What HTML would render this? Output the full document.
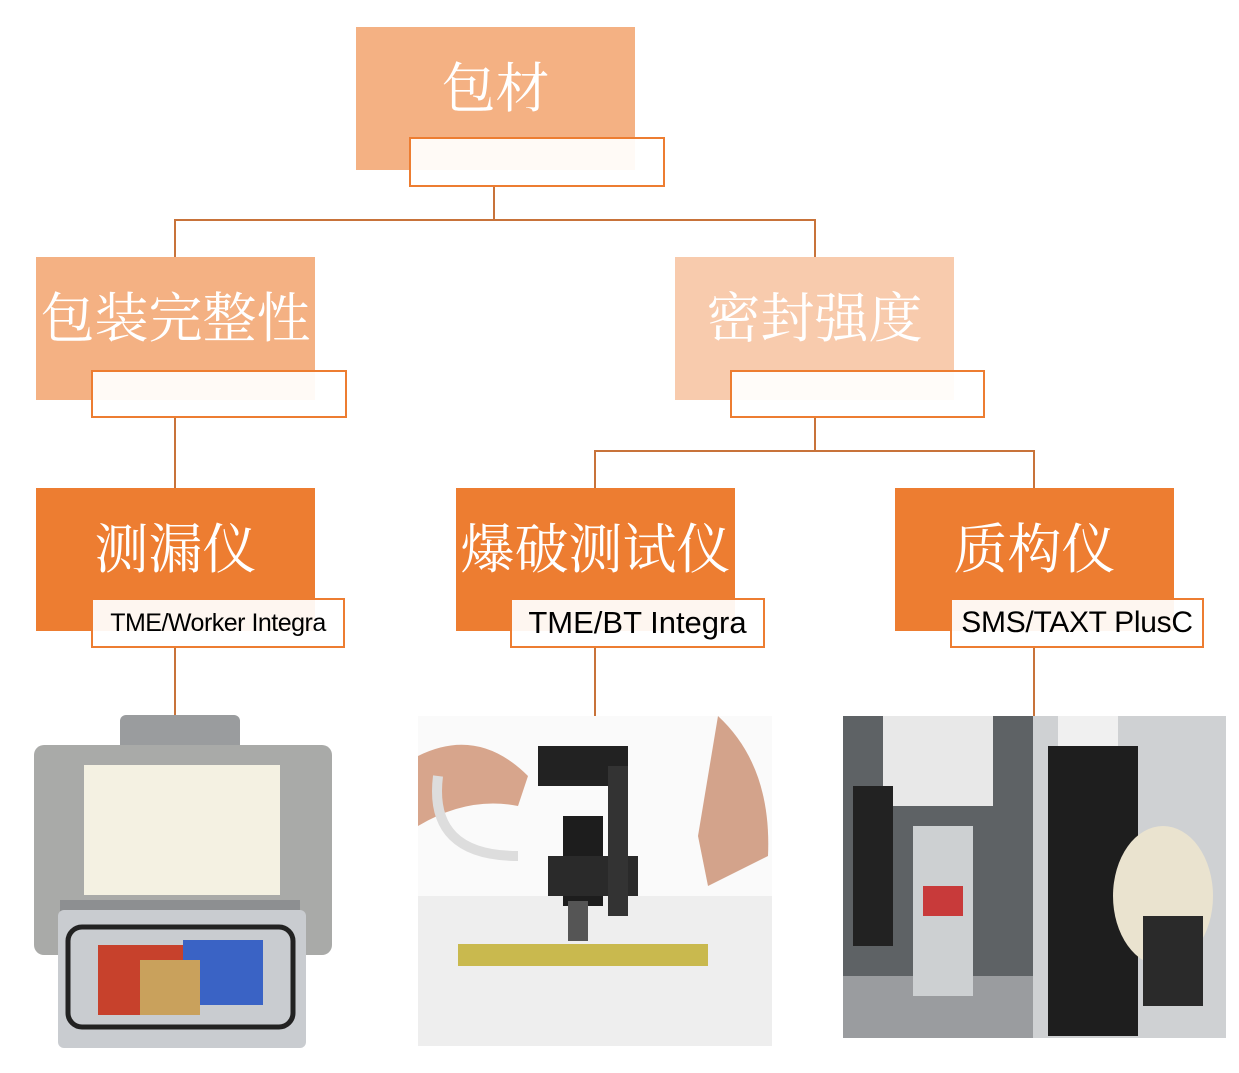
<!DOCTYPE html>
<html><head><meta charset="utf-8"><style>
body{margin:0;width:1239px;height:1073px;background:#fff;position:relative;overflow:hidden}
.b{position:absolute;display:flex;align-items:center;justify-content:center;color:#fff;font-family:"Liberation Serif","Noto Serif CJK SC",serif;font-size:54px;padding-bottom:28px;box-sizing:border-box;white-space:nowrap}
.s{position:absolute;background:rgba(255,255,255,0.93);border:2px solid #ED7D31;box-sizing:border-box;font-family:"Liberation Sans",sans-serif;color:#000;display:flex;align-items:center;justify-content:center;white-space:nowrap}
.l{position:absolute;background:#C8733A}
.img{position:absolute}
</style></head><body>
<div class="l" style="left:493px;top:187px;width:2px;height:34px"></div>
<div class="l" style="left:174px;top:219px;width:642px;height:2px"></div>
<div class="l" style="left:174px;top:219px;width:2px;height:38px"></div>
<div class="l" style="left:814px;top:219px;width:2px;height:38px"></div>
<div class="l" style="left:174px;top:418px;width:2px;height:70px"></div>
<div class="l" style="left:814px;top:418px;width:2px;height:34px"></div>
<div class="l" style="left:594px;top:450px;width:441px;height:2px"></div>
<div class="l" style="left:594px;top:450px;width:2px;height:38px"></div>
<div class="l" style="left:1033px;top:450px;width:2px;height:38px"></div>
<div class="l" style="left:174px;top:648px;width:2px;height:68px"></div>
<div class="l" style="left:594px;top:648px;width:2px;height:68px"></div>
<div class="l" style="left:1033px;top:648px;width:2px;height:68px"></div>

<div class="b" style="left:356px;top:27px;width:279px;height:143px;background:#F4B183">包材</div>
<div class="s" style="left:409px;top:137px;width:256px;height:50px"></div>
<div class="b" style="left:36px;top:257px;width:279px;height:143px;background:#F4B183">包装完整性</div>
<div class="s" style="left:91px;top:370px;width:256px;height:48px"></div>
<div class="b" style="left:675px;top:257px;width:279px;height:143px;background:#F8CBAD">密封强度</div>
<div class="s" style="left:730px;top:370px;width:255px;height:48px"></div>

<div class="b" style="left:36px;top:488px;width:279px;height:143px;background:#ED7D31">测漏仪</div>
<div class="s" style="left:91px;top:598px;width:254px;height:50px;font-size:25px;letter-spacing:-0.5px">TME/Worker Integra</div>
<div class="b" style="left:456px;top:488px;width:279px;height:143px;background:#ED7D31">爆破测试仪</div>
<div class="s" style="left:510px;top:598px;width:255px;height:50px;font-size:31px">TME/BT Integra</div>
<div class="b" style="left:895px;top:488px;width:279px;height:143px;background:#ED7D31">质构仪</div>
<div class="s" style="left:950px;top:598px;width:254px;height:50px;font-size:30px;letter-spacing:-0.3px">SMS/TAXT PlusC</div>

<svg class="img" style="left:20px;top:715px" width="326" height="334">
<rect x="100" y="0" width="120" height="50" rx="6" fill="#9a9c9e"/>
<rect x="14" y="30" width="298" height="210" rx="10" fill="#a9aaa8"/>
<rect x="64" y="50" width="196" height="130" fill="#f4f1e2"/>
<rect x="40" y="185" width="240" height="12" fill="#8d8f91"/>
<rect x="38" y="195" width="248" height="138" rx="6" fill="#c9ccd0"/>
<rect x="48" y="212" width="225" height="100" rx="14" fill="none" stroke="#222" stroke-width="5"/>
<rect x="78" y="230" width="85" height="70" fill="#c7412c"/>
<rect x="163" y="225" width="80" height="65" fill="#3a63c5"/>
<rect x="120" y="245" width="60" height="55" fill="#c9a15c"/>
</svg>
<svg class="img" style="left:418px;top:716px" width="354" height="330">
<rect x="0" y="180" width="354" height="150" fill="#eeeeee"/>
<rect x="0" y="0" width="354" height="180" fill="#fafafa"/>
<path d="M0 40 Q60 10 110 60 L100 90 Q50 80 0 110Z" fill="#d7a58c"/>
<rect x="120" y="30" width="90" height="40" fill="#222"/>
<rect x="145" y="100" width="40" height="90" fill="#1d1d1d"/>
<rect x="130" y="140" width="90" height="40" fill="#2a2a2a"/>
<rect x="190" y="50" width="20" height="150" fill="#333"/>
<rect x="150" y="185" width="20" height="40" fill="#555"/>
<path d="M300 0 Q354 50 350 140 L290 170 L280 120Z" fill="#d3a38b"/>
<rect x="40" y="228" width="250" height="22" fill="#c9b94e"/>
<path d="M20 60 Q10 140 100 140" stroke="#ddd" stroke-width="10" fill="none"/>
</svg>
<svg class="img" style="left:843px;top:716px" width="383" height="322">
<rect x="0" y="0" width="190" height="322" fill="#5e6265"/>
<rect x="190" y="0" width="193" height="322" fill="#cfd1d3"/>
<rect x="0" y="260" width="190" height="62" fill="#9a9c9f"/>
<rect x="40" y="0" width="110" height="90" fill="#e8e8e8"/>
<rect x="70" y="110" width="60" height="170" fill="#cdd0d2"/>
<rect x="80" y="170" width="40" height="30" fill="#c83a3a"/>
<rect x="10" y="70" width="40" height="160" fill="#222"/>
<rect x="205" y="30" width="90" height="290" fill="#1e1e1e"/>
<rect x="215" y="0" width="60" height="30" fill="#f0f0f0"/>
<ellipse cx="320" cy="180" rx="50" ry="70" fill="#eae3cf"/>
<rect x="300" y="200" width="60" height="90" fill="#2a2a2a"/>
</svg>
</body></html>
